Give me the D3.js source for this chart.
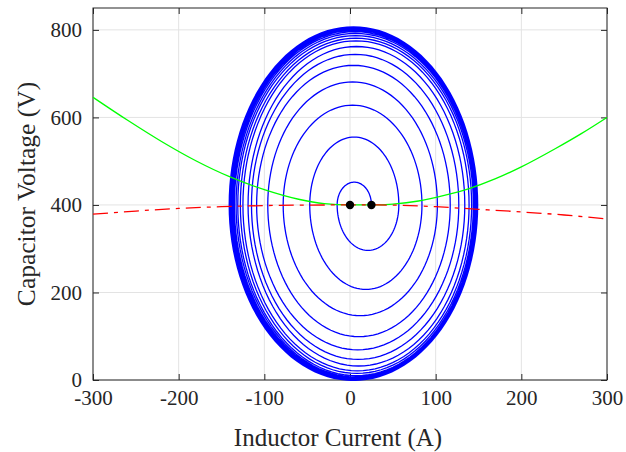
<!DOCTYPE html>
<html>
<head>
<meta charset="utf-8">
<script src="https://cdn.jsdelivr.net/npm/d3@7"></script>
<style>
  html, body { margin: 0; padding: 0; background: #fff; }
  text { font-family: "Liberation Serif", "Times New Roman", serif; fill: #262626; }
</style>
</head>
<body>
<div id="chart"></div>
<script>
// values
const xTicks = [-300, -200, -100, 0, 100, 200, 300];
const yTicks = [0, 200, 400, 600, 800];

// spiral: crossings of the v = 400 line, in order (A)
const crossI = [25, -15, 57, -47, 84, -78, 102, -96, 117, -109, 127, -115, 134, -119,
  139, -125, 142, -128, 144, -131, 145.5, -133, 146.5, -135, 147, -136.5, 147.5, -138,
  148, -139, 148.5, -140, 149, -140.5, 149, -141, 149];
// extreme voltage reached on each half turn (upper arcs = peaks, lower arcs = troughs)
const upperPeaks = [452, 555, 628, 681, 719, 744, 762, 775, 781, 787, 792, 796, 799, 801, 803, 805, 806, 807];
const lowerTroughs = [296, 207, 147, 99, 69, 47, 32, 21, 15, 10, 7, 5, 3, 2, 1, 0, 0, -1];

const greenI = [-300, -260, -220, -180, -140, -100, -60, -30, 0, 25, 50, 80, 110, 140, 170, 200, 240, 270, 300];
const greenV = [646, 594, 545, 501, 464, 435, 413, 403, 400, 400, 402, 409, 422, 438, 460, 487, 529, 563, 600];

const redI = [-300, -250, -200, -150, -100, -50, 0, 25, 50, 100, 150, 200, 250, 300];
const redV = [379, 386, 392, 396, 398.5, 399.7, 400, 400, 399.6, 396, 390, 384, 377, 368];

const dotsI = [0, 25];
const dotsV = [400, 400];

const W = 626, H = 452;
const margin = {top: 8, right: 19, bottom: 72, left: 93};
const width = W - margin.left - margin.right,
      height = H - margin.top - margin.bottom;

const x = d3.scaleLinear().domain([-300, 300]).range([0, width]);
const y = d3.scaleLinear().domain([0, 850]).range([height, 0]);

const svg = d3.select("#chart").append("svg")
    .attr("width", W)
    .attr("height", H);

svg.append("defs").append("clipPath")
    .attr("id", "clip")
  .append("rect")
    .attr("x", -1).attr("y", -1)
    .attr("width", width + 2).attr("height", height + 2);

const g = svg.append("g")
    .attr("transform", `translate(${margin.left},${margin.top})`);

// grid
g.append("g").selectAll("line")
  .data(xTicks)
  .join("line")
    .attr("x1", d => x(d)).attr("x2", d => x(d))
    .attr("y1", 0).attr("y2", height)
    .attr("stroke", "#e3e3e3");
g.append("g").selectAll("line")
  .data(yTicks)
  .join("line")
    .attr("y1", d => y(d)).attr("y2", d => y(d))
    .attr("x1", 0).attr("x2", width)
    .attr("stroke", "#e3e3e3");

const fmt = d => String(d);

// axes
g.append("g")
    .attr("transform", `translate(0,${height})`)
    .call(d3.axisBottom(x).tickValues(xTicks).tickFormat(fmt).tickSizeInner(-6).tickSizeOuter(0).tickPadding(10));
g.append("g")
    .call(d3.axisLeft(y).tickValues(yTicks).tickFormat(fmt).tickSizeInner(-6).tickSizeOuter(0).tickPadding(11));
g.append("g")
    .call(d3.axisTop(x).tickValues(xTicks).tickFormat("").tickSizeInner(-6).tickSizeOuter(0));
g.append("g")
    .attr("transform", `translate(${width},0)`)
    .call(d3.axisRight(y).tickValues(yTicks).tickFormat("").tickSizeInner(-6).tickSizeOuter(0));

g.selectAll(".domain").remove();
g.selectAll(".tick line").attr("stroke", "#262626");
g.selectAll(".tick text")
    .style("font-size", "21px")
    .attr("fill", "#262626");

g.append("rect")
    .attr("width", width).attr("height", height)
    .attr("fill", "none")
    .attr("stroke", "#262626")
    .attr("stroke-width", 1);

// labels
svg.append("text")
    .attr("x", 338).attr("y", 446)
    .attr("text-anchor", "middle")
    .style("font-size", "25px")
    .text("Inductor Current (A)");

svg.append("text")
    .attr("transform", "translate(35,194) rotate(-90)")
    .attr("text-anchor", "middle")
    .style("font-size", "25.5px")
    .text("Capacitor Voltage (V)");

const plot = g.append("g").attr("clip-path", "url(#clip)");

// spiral built from half-ellipse arcs between successive crossings
const spiral = [];
for (let k = 0; k < crossI.length - 1; k++) {
  const a = crossI[k], b = crossI[k + 1];
  const c = (a + b) / 2;
  const ext = k % 2 === 0 ? upperPeaks[k / 2] : lowerTroughs[(k - 1) / 2];
  const n = 60;
  for (let j = (k === 0 ? 0 : 1); j <= n; j++) {
    const t = Math.PI * j / n;
    spiral.push([c + (a - c) * Math.cos(t), 400 + (ext - 400) * Math.sin(t)]);
  }
}

const line = d3.line()
    .x(d => x(d[0]))
    .y(d => y(d[1]));

plot.append("path")
    .datum(spiral)
    .attr("d", line)
    .attr("fill", "none")
    .attr("stroke", "#0000ff")
    .attr("stroke-width", 1.3);

const smooth = d3.line()
    .x(d => x(d[0]))
    .y(d => y(d[1]))
    .curve(d3.curveMonotoneX);

plot.append("path")
    .datum(d3.zip(greenI, greenV))
    .attr("d", smooth)
    .attr("fill", "none")
    .attr("stroke", "#00ff00")
    .attr("stroke-width", 1.3);

plot.append("path")
    .datum(d3.zip(redI, redV))
    .attr("d", smooth)
    .attr("fill", "none")
    .attr("stroke", "#ff0000")
    .attr("stroke-width", 1.3)
    .attr("stroke-dasharray", "15,6,4,6");

plot.selectAll("circle")
  .data(d3.zip(dotsI, dotsV))
  .join("circle")
    .attr("cx", d => x(d[0]))
    .attr("cy", d => y(d[1]))
    .attr("r", 4.2)
    .attr("fill", "#000");
</script>
</body>
</html>
